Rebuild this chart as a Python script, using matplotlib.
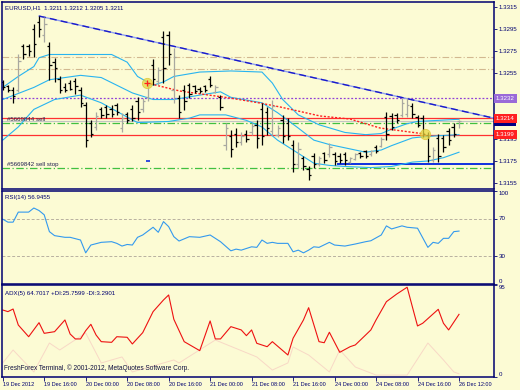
import matplotlib
matplotlib.use("Agg")
import matplotlib.pyplot as plt
import matplotlib.transforms as mtransforms
import numpy as np

plt.rcParams['font.family'] = ['Liberation Sans', 'DejaVu Sans']

# ---------------- data ----------------
highs = [1.3249,1.3244,1.3242,1.3272,1.3282,1.3282,1.3300,1.3307,1.3306,1.3283,
         1.3269,1.3252,1.3246,1.3249,1.3251,1.3242,1.3229,1.3212,1.3220,1.3224,
         1.3226,1.3226,1.3228,1.3219,1.3220,1.3226,1.3233,1.3232,1.3247,1.3268,
         1.3261,1.3293,1.3293,1.3278,1.3235,1.3244,1.3246,1.3244,1.3242,1.3244,
         1.3252,1.3244,1.3235,1.3210,1.3203,1.3205,1.3201,1.3203,1.3210,1.3212,
         1.3228,1.3224,1.3231,1.3208,1.3217,1.3214,1.3194,1.3192,1.3180,1.3170,
         1.3182,1.3180,1.3183,1.3191,1.3183,1.3182,1.3183,1.3179,1.3182,1.3183,
         1.3185,1.3185,1.3190,1.3197,1.3220,1.3219,1.3219,1.3232,1.3232,1.3228,
         1.3217,1.3217,1.3201,1.3188,1.3200,1.3199,1.3205,1.3210,1.3212]
lows = [1.3240,1.3238,1.3228,1.3238,1.3268,1.3271,1.3270,1.3288,1.3283,1.3249,
        1.3247,1.3237,1.3238,1.3240,1.3236,1.3224,1.3188,1.3197,1.3203,1.3214,
        1.3214,1.3215,1.3217,1.3201,1.3210,1.3211,1.3212,1.3220,1.3230,1.3244,
        1.3244,1.3246,1.3262,1.3228,1.3214,1.3221,1.3232,1.3237,1.3237,1.3238,
        1.3242,1.3237,1.3221,1.3185,1.3179,1.3188,1.3190,1.3192,1.3199,1.3187,
        1.3190,1.3199,1.3199,1.3197,1.3191,1.3194,1.3165,1.3169,1.3167,1.3158,
        1.3169,1.3170,1.3173,1.3179,1.3171,1.3173,1.3171,1.3173,1.3176,1.3178,
        1.3178,1.3180,1.3182,1.3188,1.3194,1.3203,1.3210,1.3215,1.3215,1.3214,
        1.3206,1.3197,1.3174,1.3174,1.3174,1.3183,1.3190,1.3197,1.3205]
opens = [1.3247,1.3243,1.3240,1.3240,1.3280,1.3280,1.3295,1.3302,1.3290,1.3280,
         1.3265,1.3250,1.3242,1.3246,1.3248,1.3240,1.3226,1.3210,1.3206,1.3222,
         1.3224,1.3222,1.3226,1.3205,1.3218,1.3222,1.3230,1.3222,1.3233,1.3262,
         1.3248,1.3288,1.3290,1.3240,1.3232,1.3240,1.3244,1.3243,1.3241,1.3243,
         1.3250,1.3238,1.3233,1.3190,1.3198,1.3200,1.3192,1.3200,1.3201,1.3208,
         1.3222,1.3220,1.3202,1.3199,1.3212,1.3210,1.3190,1.3172,1.3178,1.3168,
         1.3180,1.3172,1.3182,1.3181,1.3181,1.3180,1.3181,1.3174,1.3177,1.3182,
         1.3184,1.3181,1.3188,1.3189,1.3215,1.3216,1.3217,1.3217,1.3218,1.3225,
         1.3215,1.3214,1.3199,1.3176,1.3196,1.3196,1.3202,1.3206,1.3211]
closes = [1.3242,1.3240,1.3234,1.3266,1.3272,1.3275,1.3282,1.3295,1.3300,1.3262,
          1.3260,1.3240,1.3240,1.3241,1.3243,1.3228,1.3194,1.3200,1.3216,1.3217,
          1.3218,1.3218,1.3220,1.3214,1.3212,1.3214,1.3220,1.3230,1.3244,1.3250,
          1.3258,1.3260,1.3272,1.3270,1.3220,1.3230,1.3236,1.3239,1.3239,1.3240,
          1.3244,1.3242,1.3224,1.3205,1.3186,1.3192,1.3198,1.3195,1.3207,1.3196,
          1.3198,1.3205,1.3225,1.3205,1.3198,1.3198,1.3172,1.3186,1.3170,1.3162,
          1.3172,1.3178,1.3176,1.3188,1.3175,1.3176,1.3176,1.3178,1.3181,1.3180,
          1.3180,1.3184,1.3184,1.3195,1.3200,1.3206,1.3212,1.3228,1.3226,1.3218,
          1.3208,1.3200,1.3180,1.3185,1.3180,1.3188,1.3194,1.3200,1.3211]

bb_up_idx = [0,3,6,7,9,15,21,24,26,29,31,33,38,44,50,52,54,57,61,66,70,73,75,78,80,84,88]
bb_up_val = [1.3242,1.3252,1.3261,1.3269,1.3272,1.3272,1.3272,1.3265,1.3252,1.3244,1.3247,1.3252,
             1.3256,1.3257,1.3256,1.3246,1.3231,1.3217,1.3208,1.3201,1.3199,1.3200,1.3204,1.3209,
             1.3211,1.3212,1.3213]
bb_mid_idx = [0,6,9,15,19,25,29,33,38,42,44,50,53,57,60,63,66,70,73,75,79,81,84,88]
bb_mid_val = [1.3231,1.3242,1.3249,1.3253,1.3251,1.3237,1.3231,1.3231,1.3235,1.3238,1.3233,1.3228,
              1.3219,1.3205,1.3194,1.3190,1.3187,1.3183,1.3185,1.3189,1.3196,1.3197,1.3198,1.3199]
bb_low_idx = [0,3,6,10,15,19,24,26,32,36,38,43,47,50,53,57,60,63,66,71,75,79,82,85,88]
bb_low_val = [1.3194,1.3206,1.3222,1.3231,1.3235,1.3228,1.3215,1.3210,1.3211,1.3214,1.3217,1.3217,
              1.3212,1.3206,1.3194,1.3182,1.3173,1.3171,1.3170,1.3169,1.3170,1.3174,1.3175,1.3178,1.3183]

ma_idx = [27.85,34.2,43.8,49.6,53.5,61.2,67.0,72.8,81.4]
ma_val = [1.3246,1.32387,1.32324,1.32278,1.32242,1.3216,1.32132,1.3205,1.31996]

trend_idx = [7, 94.75]
trend_val = [1.3307, 1.3214]

rsi_idx = [0,1,2,3,5,6,7,8,9,10,12,13,15,16,17,19,21,22,23,24,25,26,27,29,30,31,32,33,34,36,
           38,40,42,44,45,46,48,49,50,51,52,53,55,56,57,58,59,60,61,63,64,66,68,70,71,73,74,75,
           77,78,80,82,83,84,85,86,87,88]
rsi_val = [69.7,66.5,66.5,77.3,77.3,81.7,79.0,74.4,56.3,52.0,50.2,50.2,47.3,33.5,41.9,44.8,45.5,
           43.7,40.8,42.5,41.9,50.2,52.7,61.0,55.6,67.1,61.7,50.9,46.2,50.9,50.2,52.7,45.5,35.7,
           37.5,36.4,40.0,39.4,47.3,43.7,44.8,43.7,43.7,34.6,36.4,33.5,36.4,40.0,39.4,44.8,41.9,
           40.8,43.0,45.5,46.5,52.7,62.5,59.2,62.5,61.0,60.0,39.4,44.8,43.7,49.1,49.1,56.3,56.9]

adx_idx = [0,1,2,3,5,7,8,10,12,13,14,15,16,17,18,19,21,22,24,25,26,27,29,31,32,33,35,38,40,41,
           42,44,46,47,48,49,51,52,55,56,58,59,61,62,63,65,67,68,70,71,72,74,76,78,79,80,81,83,
           84,85,86,88]
adx_val = [69.2,67.5,70.2,53.7,41.6,56.1,45.1,46.8,58.9,44.4,39.3,39.3,47.8,54.4,43.4,36.5,35.8,
           41.6,41.0,34.1,40.0,45.8,67.5,79.5,84.7,59.6,36.5,27.2,57.9,39.3,39.3,52.0,48.6,42.7,
           48.6,34.8,31.3,36.5,22.7,40.0,58.9,71.6,36.5,35.4,46.2,25.5,31.3,33.1,43.4,48.6,58.9,
           77.8,85.7,92.7,72.6,52.7,55.5,65.1,69.9,55.5,48.6,64.7]
di_idx = [0,2,6,9,11,16,19,23,25,33,34,41,49,52,55,56,59,63,65,68,72,78,82,85,87,88]
di_val = [14.5,27.9,5.2,35.1,27.9,45.5,14.5,20.7,5.2,17.6,14.5,38.2,20.7,7.2,14.5,31.0,22.7,
          5.2,27.9,10.3,2.0,2.0,35.1,17.6,5.2,3.3]

price_ticks = [1.3155,1.3175,1.3195,1.3255,1.3275,1.3295,1.3315]
time_tick_idx = [0,8,16,24,32,40,48,56,64,72,80,88]
time_labels = ["19 Dec 2012","19 Dec 16:00","20 Dec 00:00","20 Dec 08:00","20 Dec 16:00",
               "21 Dec 00:00","21 Dec 08:00","21 Dec 16:00","24 Dec 00:00","24 Dec 08:00",
               "24 Dec 16:00","26 Dec 12:00"]

level_tan = [1.3270, 1.3259]
level_purple = 1.3232
level_red = [1.3214, 1.3199]
level_green = [1.3210, 1.3169]
bid = 1.3211
support_start, support_val = 64.5, 1.3172
circle_idx = [27.8, 81.4]
circle_val = [1.3246, 1.31996]

# ---------------- figure ----------------
BG = '#fcfbd4'
NAVY = '#000070'
FS = 4.4
fig = plt.figure(figsize=(5.2, 3.9), dpi=100)
fig.patch.set_facecolor(BG)
L, W = 2/520, 492/520
ax = fig.add_axes([L, 1-189/390, W, 187/390])
ar = fig.add_axes([L, 1-284/390, W, 93/390])
aa = fig.add_axes([L, 1-377/390, W, 92/390])
XMIN, XMAX = -0.14, 94.75
for a in (ax, ar, aa):
    a.set_facecolor(BG)
    a.set_xlim(XMIN, XMAX)
    for s in a.spines.values():
        s.set_color(NAVY)
        s.set_linewidth(1.1)
    a.tick_params(axis='y', left=False, labelleft=False, right=True, labelright=True,
                  length=2, width=0.6, color=NAVY, labelcolor=NAVY, labelsize=FS, pad=1.5)
    a.tick_params(axis='x', bottom=False, labelbottom=False)

# main panel
ax.set_ylim(1.31495, 1.33198)
ax.set_yticks(price_ticks)
ax.set_yticklabels([f"{p:.4f}" for p in price_ticks])

for y in level_tan:
    ax.axhline(y, color='#d2b890', lw=0.8, ls=(0, (6, 2, 1, 2)))
ax.axhline(bid, color='#c4c4c4', lw=0.8)
ax.axhline(level_purple, color='#9040d8', lw=0.9, ls=(0, (1.5, 1.5)))
for y in level_red:
    ax.axhline(y, color='#ff3030', lw=0.9)
for y in level_green:
    ax.axhline(y, color='#40c040', lw=0.9, ls=(0, (6, 2, 1, 2)))
ax.hlines(support_val, support_start, XMAX, color='#1030e0', lw=1.4)

for xs, ys in ((bb_up_idx, bb_up_val), (bb_mid_idx, bb_mid_val), (bb_low_idx, bb_low_val)):
    ax.plot(xs, ys, color='#28b4f0', lw=0.8)

ax.plot(trend_idx, trend_val, color='#90a0f0', lw=1.0)
ax.plot(trend_idx, trend_val, color='#1a1ac8', lw=1.0, ls=(0, (5, 3)))
ax.plot(ma_idx, ma_val, color='#ff2020', lw=1.0, ls=(0, (1.5, 1.2)))

idx = np.arange(len(highs))
o = np.array(opens); c = np.array(closes)
cols = np.where(c >= o, '#a8a8a0', '#000000')
ax.vlines(idx, lows, highs, colors=cols, lw=0.9)
ax.hlines(o, idx - 0.45, idx, colors=cols, lw=0.9)
ax.hlines(c, idx, idx + 0.45, colors=cols, lw=0.9)

ax.scatter(circle_idx, circle_val, s=55, color='#e8d840', alpha=0.75, edgecolors='#d8c030',
           linewidths=0.6, zorder=5)
ax.scatter(circle_idx[:1], circle_val[:1], s=14, marker='+', color='#ff2020', lw=0.9, zorder=6)
ax.hlines(1.3175, 27.7, 28.4, color='#1030e0', lw=1.2)

btr = mtransforms.blended_transform_factory(ax.transAxes, ax.transData)
ax.text(0.01, 1.32132, "#5669844 sell", transform=btr, fontsize=FS, color='#202050',
        va='center', ha='left')
ax.text(0.01, 1.3172, "#5669842 sell stop", transform=btr, fontsize=FS, color='#202050',
        va='center', ha='left')
ax.text(0.006, 0.968, "EURUSD,H1  1.3211 1.3212 1.3205 1.3211", transform=ax.transAxes,
        fontsize=FS, color=NAVY, va='center', ha='left')

for val, txt, col, z in ((level_purple, "1.3232", '#9a6ad8', 10), (bid, "1.3211", '#000080', 10),
                         (level_red[0], "1.3214", '#ff2020', 11), (level_red[1], "1.3199", '#ff2020', 11)):
    ax.text(1.004, val, txt, transform=btr, fontsize=FS, color='white', va='center', ha='left',
            clip_on=False, bbox=dict(boxstyle='square,pad=0.3', fc=col, ec='none'), zorder=z)

# RSI panel
ar.set_ylim(0, 100)
ar.set_yticks([0, 30, 70, 100])
ar.set_yticklabels(["0", "30", "70", "100"])
for lab, va in zip(ar.get_yticklabels(), ['bottom', 'center', 'center', 'top']):
    lab.set_va(va)
for lv in (30, 70):
    ar.axhline(lv, color='#b8b0a0', lw=0.7, ls=(0, (3, 2)))
ar.plot(rsi_idx, rsi_val, color='#3399ee', lw=0.8)
ar.text(0.006, 0.935, "RSI(14) 56.9455", transform=ar.transAxes, fontsize=FS, color=NAVY,
        va='center', ha='left')

# ADX panel
aa.set_ylim(0, 95)
aa.set_yticks([0, 95])
aa.set_yticklabels(["0", "95"])
for lab, va in zip(aa.get_yticklabels(), ['bottom', 'top']):
    lab.set_va(va)
aa.plot(di_idx, di_val, color='#f8d8c6', lw=0.7)
aa.plot(adx_idx, adx_val, color='#ee1111', lw=0.8)
aa.text(0.006, 0.913, "ADX(5) 64.7017 +DI:25.7599 -DI:3.2901", transform=aa.transAxes,
        fontsize=FS, color=NAVY, va='center', ha='left')
aa.text(0.004, 0.05, "FreshForex Terminal, \u00a9 2001-2012, MetaQuotes Software Corp.",
        transform=aa.transAxes, fontsize=4.7, color='#101040', va='bottom', ha='left')
aa.tick_params(axis='x', bottom=True, labelbottom=True, length=3, width=0.6, color=NAVY,
               labelcolor=NAVY, labelsize=4.0, pad=0.5)
aa.set_xticks(time_tick_idx)
aa.set_xticklabels(time_labels)
for lab in aa.get_xticklabels():
    lab.set_ha('left')

fig.savefig("out.png", dpi=100, facecolor=BG)
